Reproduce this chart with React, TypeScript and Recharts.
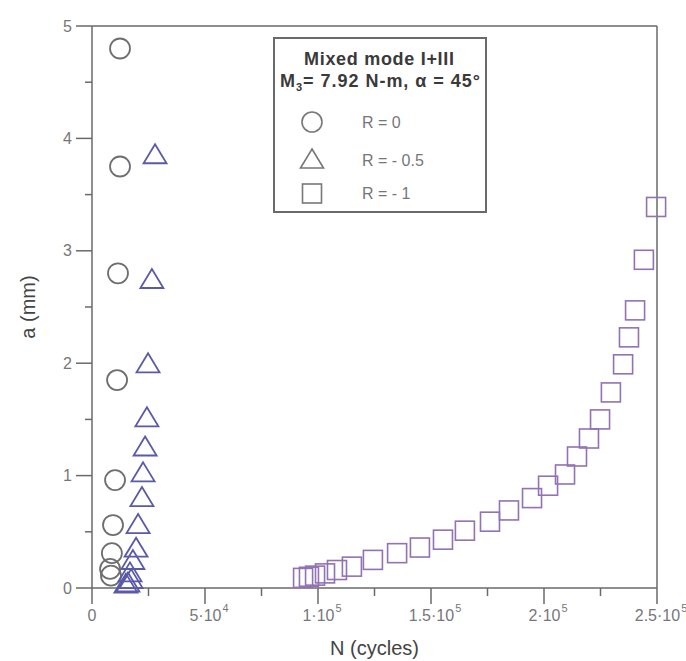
import React from "react";
import { ScatterChart, Scatter, XAxis, YAxis } from "recharts";

// R = 0 (circles)
const r0Cycles = [12400, 12400, 11500, 11100, 10200, 9300, 8800, 8000, 8400];
const r0Crack = [4.8, 3.75, 2.8, 1.85, 0.96, 0.56, 0.31, 0.17, 0.11];

// R = -0.5 (triangles)
const r05Cycles = [15000, 15900, 16800, 17300, 18100, 19500, 20400, 22100, 22600, 23500, 24300, 24800, 26500, 27900];
const r05Crack = [0.03, 0.04, 0.13, 0.07, 0.24, 0.35, 0.56, 0.8, 1.02, 1.25, 1.51, 1.99, 2.74, 3.85];

// R = -1 (squares)
const r1Cycles = [
  93400, 96000, 98700, 103100, 108400, 115000, 124300, 135000, 145100, 155300, 165000, 176100, 184500,
  194700, 201800, 209300, 214600, 219900, 224800, 229600, 235000, 237600, 240300, 244200, 249600,
];
const r1Crack = [
  0.09, 0.1, 0.11, 0.13, 0.16, 0.19, 0.25, 0.31, 0.36, 0.43, 0.51, 0.59, 0.69, 0.8, 0.91, 1.01, 1.17,
  1.33, 1.5, 1.74, 1.99, 2.23, 2.47, 2.92, 3.39,
];

// axis ticks
const xTicks = [0, 25000, 50000, 75000, 100000, 125000, 150000, 175000, 200000, 225000, 250000];
const xMajor = [0, 50000, 100000, 150000, 200000, 250000];
const xMant = ["0", "5·10", "1·10", "1.5·10", "2·10", "2.5·10"];
const xExp = ["", "4", "5", "5", "5", "5"];
const yTicks = [0, 0.5, 1, 1.5, 2, 2.5, 3, 3.5, 4, 4.5, 5];
const yMajor = [0, 1, 2, 3, 4, 5];
const yLabels = ["0", "1", "2", "3", "4", "5"];

const FONT = "'Liberation Sans', Arial, sans-serif";
const AX = "#6a6a6a";
const TXT = "#777";
const C_R0 = "#6e6e6e";
const C_R05 = "#5a5aa8";
const C_R1 = "#9272b2";

const toPoints = (n: number[], a: number[]) => n.map((v, i) => ({ n: v, a: a[i] }));
const r0Data = toPoints(r0Cycles, r0Crack);
const r05Data = toPoints(r05Cycles, r05Crack);
const r1Data = toPoints(r1Cycles, r1Crack);

const circleShape = (color: string) => (p: any) => (
  <circle cx={p.cx} cy={p.cy} r={10} fill="none" stroke={color} strokeWidth={1.8} />
);
const triShape = (color: string) => (p: any) => (
  <polygon
    points={`${p.cx},${p.cy - 11} ${p.cx + 11.5},${p.cy + 8} ${p.cx - 11.5},${p.cy + 8}`}
    fill="none"
    stroke={color}
    strokeWidth={1.8}
  />
);
const squareShape = (color: string) => (p: any) => (
  <rect x={p.cx - 9.5} y={p.cy - 9.5} width={19} height={19} fill="none" stroke={color} strokeWidth={1.6} />
);

const BottomTick = (p: any) => {
  const { x, y, payload } = p;
  const i = xMajor.indexOf(payload.value);
  const major = i >= 0;
  return (
    <g>
      <line x1={x} x2={x} y1={y} y2={y + (major ? 16 : 8)} stroke={AX} strokeWidth={1.5} />
      {major && (
        <text x={x + (xExp[i] ? 4 : 0)} y={y + 33} textAnchor="middle" fontSize={16} fill={TXT}>
          {xMant[i]}
          {xExp[i] && (
            <tspan dy={-9} dx={1} fontSize={11}>
              {xExp[i]}
            </tspan>
          )}
        </text>
      )}
    </g>
  );
};

const TopTick = (p: any) => {
  const { x, y, payload } = p;
  const major = xMajor.indexOf(payload.value) >= 0;
  return <line x1={x} x2={x} y1={y} y2={y - (major ? 13 : 6)} stroke={AX} strokeWidth={1.5} />;
};

const LeftTick = (p: any) => {
  const { x, y, payload } = p;
  const i = yMajor.indexOf(payload.value);
  const major = i >= 0;
  return (
    <g>
      <line x1={x} x2={x - (major ? 16 : 7)} y1={y} y2={y} stroke={AX} strokeWidth={1.5} />
      {major && (
        <text x={x - 20} y={y} dy="0.35em" textAnchor="end" fontSize={16} fill={TXT}>
          {yLabels[i]}
        </text>
      )}
    </g>
  );
};

const RightTick = (p: any) => {
  const { x, y, payload } = p;
  const major = yMajor.indexOf(payload.value) >= 0;
  return <line x1={x} x2={x + (major ? 15 : 7)} y1={y} y2={y} stroke={AX} strokeWidth={1.5} />;
};

const XTitle = (p: any) => {
  const vb = p.viewBox;
  return (
    <text x={vb.x + vb.width / 2} y={655} textAnchor="middle" fontSize={20} fill="#444">
      N (cycles)
    </text>
  );
};

const YTitle = (p: any) => {
  const vb = p.viewBox;
  const cx = 28;
  const cy = vb.y + vb.height / 2;
  return (
    <text
      x={cx}
      y={cy}
      dy="0.35em"
      transform={`rotate(-90 ${cx} ${cy})`}
      textAnchor="middle"
      fontSize={20}
      fill="#444"
    >
      a (mm)
    </text>
  );
};

function LegendBox() {
  const w = 214;
  const h = 176;
  const g = "#777";
  return (
    <div
      style={{
        position: "absolute",
        left: 273,
        top: 37,
        width: w,
        height: h,
        border: `2px solid ${AX}`,
        boxSizing: "border-box",
        background: "#fff",
      }}
    >
      <svg width={w - 4} height={h - 4} style={{ display: "block", fontFamily: FONT }}>
        <text x={104} y={26} textAnchor="middle" fontSize={18} fontWeight="bold" fill="#3a3a3a" textLength={150}>
          Mixed mode I+III
        </text>
        <text x={5} y={48} fontSize={18} fontWeight="bold" fill="#3a3a3a" textLength={200}>
          M<tspan fontSize={11} dy={4}>3</tspan>
          <tspan dy={-4}>= 7.92 N-m, α = 45°</tspan>
        </text>
        <circle cx={37} cy={83} r={10} fill="none" stroke={g} strokeWidth={1.6} />
        <polygon points="37,110 48.5,129 25.5,129" fill="none" stroke={g} strokeWidth={1.6} />
        <rect x={27.5} y={145} width={19} height={19} fill="none" stroke={g} strokeWidth={1.6} />
        <text x={87} y={89} fontSize={16} fill={g}>
          R = 0
        </text>
        <text x={87} y={127} fontSize={16} fill={g}>
          R = - 0.5
        </text>
        <text x={87} y={160} fontSize={16} fill={g}>
          R = - 1
        </text>
      </svg>
    </div>
  );
}

export default function App() {
  return (
    <div
      style={{ position: "absolute", left: 0, top: 0, width: 686, height: 661, background: "#fff", fontFamily: FONT }}
    >
      <ScatterChart width={686} height={661} margin={{ top: 0, right: 0, bottom: 0, left: 0 }}>
        <XAxis
          xAxisId="b"
          dataKey="n"
          type="number"
          domain={[0, 250000]}
          ticks={xTicks}
          interval={0}
          orientation="bottom"
          height={73}
          tickSize={0}
          tickMargin={0}
          tickLine={false}
          tick={BottomTick}
          axisLine={{ stroke: AX, strokeWidth: 1.5 }}
          label={<XTitle />}
        />
        <XAxis
          xAxisId="t"
          dataKey="n"
          type="number"
          domain={[0, 250000]}
          ticks={xTicks}
          interval={0}
          orientation="top"
          height={26}
          tickSize={0}
          tickMargin={0}
          tickLine={false}
          tick={TopTick}
          axisLine={{ stroke: AX, strokeWidth: 1.5 }}
        />
        <YAxis
          yAxisId="l"
          dataKey="a"
          type="number"
          domain={[0, 5]}
          ticks={yTicks}
          interval={0}
          width={92}
          tickSize={0}
          tickMargin={0}
          tickLine={false}
          tick={LeftTick}
          axisLine={{ stroke: AX, strokeWidth: 1.5 }}
          label={<YTitle />}
        />
        <YAxis
          yAxisId="r"
          dataKey="a"
          type="number"
          domain={[0, 5]}
          ticks={yTicks}
          interval={0}
          orientation="right"
          width={29}
          tickSize={0}
          tickMargin={0}
          tickLine={false}
          tick={RightTick}
          axisLine={{ stroke: AX, strokeWidth: 1.5 }}
        />
        <Scatter
          name="R = 0"
          data={r0Data}
          xAxisId="b"
          yAxisId="l"
          shape={circleShape(C_R0)}
          isAnimationActive={false}
        />
        <Scatter
          name="R = -0.5"
          data={r05Data}
          xAxisId="b"
          yAxisId="l"
          shape={triShape(C_R05)}
          isAnimationActive={false}
        />
        <Scatter
          name="R = -1"
          data={r1Data}
          xAxisId="b"
          yAxisId="l"
          shape={squareShape(C_R1)}
          isAnimationActive={false}
        />
      </ScatterChart>
      <LegendBox />
    </div>
  );
}
